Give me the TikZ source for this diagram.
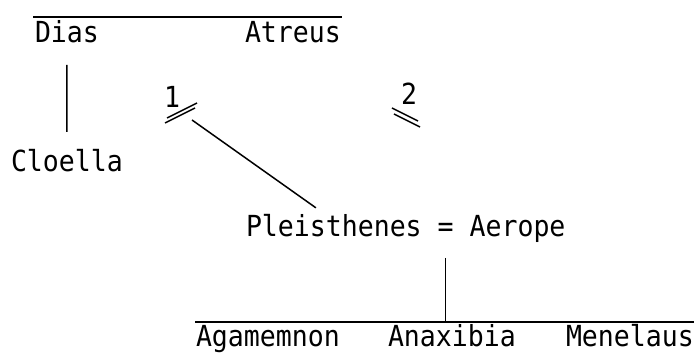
\documentclass[tikz,border=0pt]{standalone}
\usepackage{fontspec}
\newfontfamily\twfont[FakeStretch=0.915]{DejaVu Sans Mono}
\tikzset{
  txt/.style={inner sep=0pt, outer sep=0pt, anchor=base west, font=\twfont\fontsize{29}{32}\selectfont},
  lbl/.style={inner sep=0pt, outer sep=0pt, anchor=base, font=\twfont\fontsize{29}{32}\selectfont},
  ln/.style={line width=1.5pt, black},
}
\begin{document}
\begin{tikzpicture}[x=1pt,y=1pt]
\useasboundingbox (0,0) rectangle (694,355);
% top generation
\node[txt] (dias) at (35,312) {Dias};
\node[txt] (atreus) at (245,312) {Atreus};
\coordinate (topL) at (33,338);
\coordinate (topR) at (342,338);
\draw[ln] (topL) -- (topR);
% Cloella
\node[txt] (cloella) at (11,183) {Cloella};
\draw[ln] ([yshift=-22pt]dias.base) -- ([yshift=40pt]cloella.base);
% marriage marks
\node[lbl] (one) at (172,247) {1};
\node[lbl] (two) at (409,250) {2};
\coordinate (m1a) at (167,237); \coordinate (m1b) at (197,252);
\coordinate (m1c) at (165,232); \coordinate (m1d) at (195,247);
\draw[ln] (m1a) -- (m1b);
\draw[ln] (m1c) -- (m1d);
\coordinate (m2a) at (392,247); \coordinate (m2b) at (418,234);
\coordinate (m2c) at (394,241); \coordinate (m2d) at (420,228);
\draw[ln] (m2a) -- (m2b);
\draw[ln] (m2c) -- (m2d);
% couple
\node[txt] (pl) at (246,118) {Pleisthenes};
\node[txt, xshift=15.95pt] (eq) at (pl.base east) {=};
\node[txt, xshift=15.95pt] (ae) at (eq.base east) {Aerope};
\coordinate (m1) at (192,235);
\draw[ln] (m1) -- ([shift={(-18pt,7pt)}]pl.north);
% children
\coordinate (botL) at (195,33);
\coordinate (botR) at (694,33);
\draw[ln] (botL) -- (botR);
\draw[ln] ([yshift=-21pt]eq.base) -- (eq.base |- botL);
\node[txt] (aga) at (196,8) {Agamemnon};
\node[txt] (ana) at (388,8) {Anaxibia};
\node[txt] (men) at (566,8) {Menelaus};
\end{tikzpicture}
\end{document}
